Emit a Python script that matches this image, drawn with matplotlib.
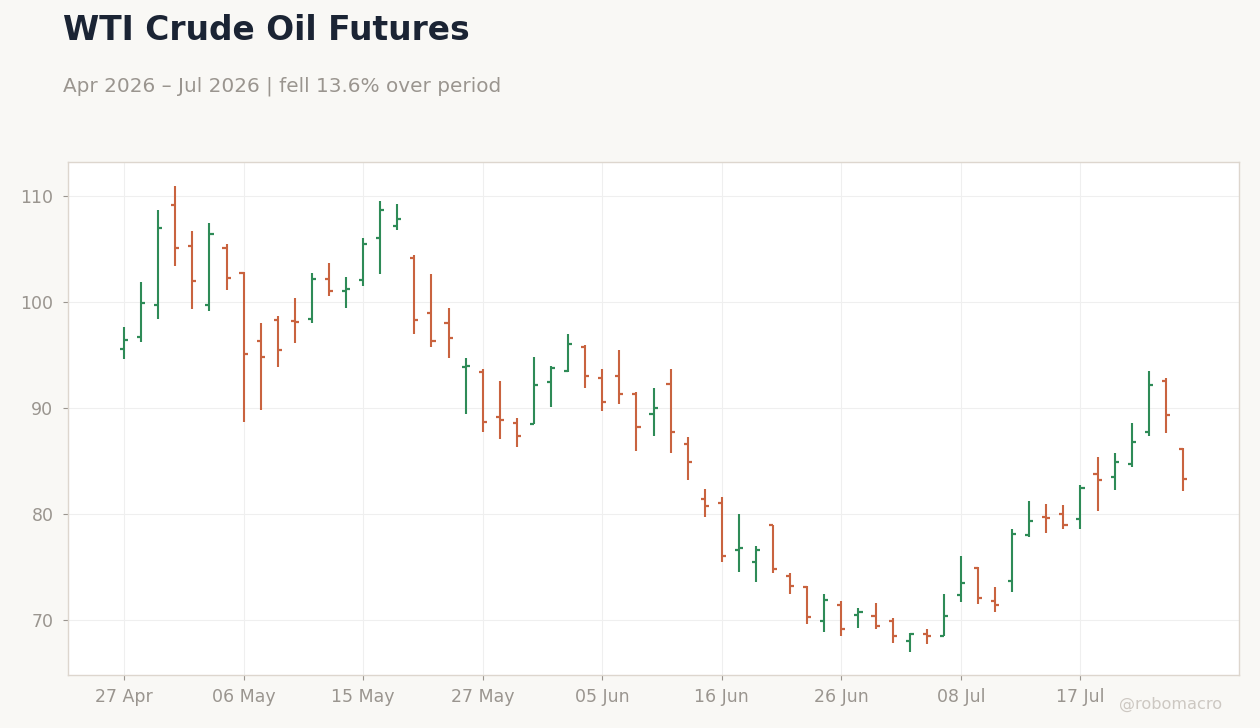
import matplotlib
matplotlib.use("Agg")
import matplotlib.pyplot as plt
import numpy as np
import pandas as pd

# ---- data -------------------------------------------------------------
holidays = ["2026-05-25", "2026-06-19", "2026-07-03"]
dates = pd.bdate_range("2026-04-27", "2026-07-27", freq="C", holidays=holidays)

opens = [95.61, 96.72, 99.75, 109.21, 105.27, 99.75, 105.08, 102.81, 96.37, 98.36,
         98.27, 98.46, 102.23, 101.10, 102.14, 106.10, 107.23, 104.21, 99.03, 98.08,
         93.90, 93.46, 89.21, 88.65, 88.55, 92.52, 93.52, 95.82, 92.89, 93.08,
         91.38, 89.50, 92.33, 86.67, 81.48, 81.10, 76.67, 75.53, 78.99, 74.21,
         73.18, 69.97, 71.48, 70.53, 70.44, 69.97, 68.08, 68.74, 68.55, 72.42,
         74.97, 71.86, 73.74, 78.08, 79.78, 80.06, 79.59, 83.81, 83.55, 84.78,
         87.80, 92.61, 86.19]
highs = [97.67, 101.92, 108.74, 111.01, 106.75, 107.51, 105.52, 102.85, 98.04, 98.71,
         100.41, 102.77, 103.71, 102.39, 106.07, 109.56, 109.28, 104.47, 102.67, 99.47,
         94.75, 93.68, 92.58, 89.06, 94.84, 93.96, 97.01, 95.94, 93.71, 95.50,
         91.51, 91.92, 93.71, 87.30, 82.39, 81.64, 80.03, 77.01, 79.00, 74.47,
         73.21, 72.48, 71.82, 71.16, 71.64, 70.22, 68.77, 69.18, 72.48, 76.05,
         75.06, 73.11, 78.58, 81.26, 80.97, 80.88, 82.74, 85.41, 85.79, 88.62,
         93.52, 92.83, 86.23]
lows = [94.67, 96.28, 98.45, 103.47, 99.40, 99.21, 101.17, 88.71, 89.84, 93.91,
        96.19, 98.08, 100.63, 99.50, 101.57, 102.70, 106.86, 97.04, 95.83, 94.78,
        89.50, 87.80, 87.14, 86.38, 88.50, 90.16, 93.45, 91.95, 89.78, 90.44,
        86.01, 87.42, 85.82, 83.27, 79.78, 75.53, 74.59, 73.65, 74.50, 72.50,
        69.69, 68.93, 68.55, 69.31, 69.21, 67.89, 67.04, 67.80, 68.49, 71.76,
        71.51, 70.82, 72.64, 77.89, 78.27, 78.65, 78.65, 80.35, 82.33, 84.50,
        87.42, 87.70, 82.17]
closes = [96.47, 99.97, 106.97, 105.17, 102.02, 106.47, 102.30, 95.11, 94.83, 95.52,
          98.14, 102.23, 101.10, 101.29, 105.53, 108.74, 107.89, 98.35, 96.38, 96.67,
          93.95, 88.74, 88.93, 87.42, 92.23, 93.84, 96.10, 93.08, 90.60, 91.38,
          88.27, 90.06, 87.80, 84.97, 80.82, 76.10, 76.86, 76.67, 74.87, 73.27,
          70.31, 71.95, 69.21, 70.82, 69.50, 68.55, 68.74, 68.55, 70.44, 73.56,
          72.14, 71.48, 78.18, 79.40, 79.69, 79.03, 82.52, 83.27, 84.97, 86.86,
          92.23, 89.40, 83.36]
y_ticks = [70, 80, 90, 100, 110]

# ---- style ------------------------------------------------------------
BG = "#f9f8f5"
UP = "#2e8b57"
DOWN = "#c9633f"
TXT = "#9a958f"

fig = plt.figure(figsize=(12.6, 7.28), dpi=100, facecolor=BG)
ax = fig.add_axes([68/1260, 1-675/728, (1239-68)/1260, (675-162)/728])
ax.set_facecolor("white")

x = np.arange(len(dates))
o = np.array(opens); h = np.array(highs); l = np.array(lows); c = np.array(closes)
cols = [UP if cc >= oo else DOWN for oo, cc in zip(o, c)]
tw = 0.24
ax.vlines(x, l, h, colors=cols, linewidth=1.5, zorder=3)
ax.hlines(o, x - tw, x, colors=cols, linewidth=1.6, zorder=3)
ax.hlines(c, x, x + tw, colors=cols, linewidth=1.6, zorder=3)

ax.set_xlim(-3.28, 65.28)
ax.set_ylim(64.84, 113.24)
tick_idx = list(range(0, len(dates), 7))
ax.set_xticks(tick_idx)
ax.set_xticklabels([dates[i].strftime("%d %b") for i in tick_idx])
ax.set_yticks(y_ticks)
ax.grid(True, color="#efefef", linewidth=0.8, zorder=0)
ax.set_axisbelow(True)
for s in ax.spines.values():
    s.set_color("#ddd6ce")
    s.set_linewidth(1.0)
ax.tick_params(axis="both", colors="#9a958f", labelcolor=TXT, labelsize=12.5,
               length=3.5, width=0.8)
ax.tick_params(axis="y", pad=7)
ax.tick_params(axis="x", pad=6)

fig.text(63/1260, 1-40/728, "WTI Crude Oil Futures", fontsize=23.7,
         fontweight="bold", color="#1b2434", va="baseline", ha="left")
fig.text(63/1260, 1-92/728, "Apr 2026 \u2013 Jul 2026 | fell 13.6% over period",
         fontsize=14.4, color=TXT, va="baseline", ha="left")
fig.text(1222/1260, 1-709/728, "@robomacro", fontsize=11.6, color="#cdc8c2",
         va="baseline", ha="right")

fig.savefig("out.png", dpi=100, facecolor=BG)
